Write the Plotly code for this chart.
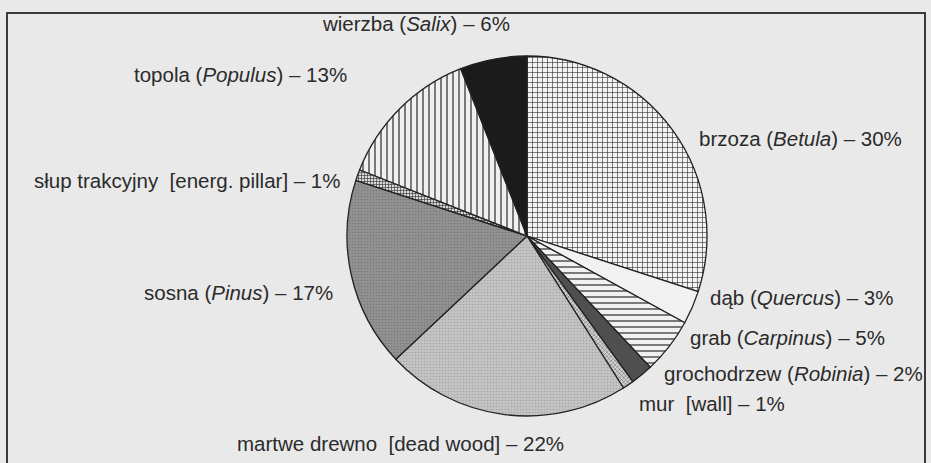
import plotly.graph_objects as go

W, H = 931, 463

categories = ["brzoza", "dąb", "grab", "grochodrzew", "mur", "martwe drewno",
              "sosna", "słup trakcyjny", "topola", "wierzba"]
values = [30, 3, 5, 2, 1, 22, 17, 1, 13, 6]
label_texts = [
    "brzoza (<i>Betula</i>) – 30%",
    "dąb (<i>Quercus</i>) – 3%",
    "grab (<i>Carpinus</i>) – 5%",
    "grochodrzew (<i>Robinia</i>) – 2%",
    "mur  [wall] – 1%",
    "martwe drewno  [dead wood] – 22%",
    "sosna (<i>Pinus</i>) – 17%",
    "słup trakcyjny  [energ. pillar] – 1%",
    "topola (<i>Populus</i>) – 13%",
    "wierzba (<i>Salix</i>) – 6%",
]

# styling per slice
colors = ["#f3f3f3", "#f1f1f1", "#f1f1f1", "#4f4f4f", "#d4d4d4", "#c4c4c4",
          "#929292", "#d8d8d8", "#f0f0f0", "#1b1b1b"]
shapes = ["+", "", "-", "", "x", ".", ".", "+", "|", ""]
fgcols = ["#2a2a2a", "#000", "#2a2a2a", "#000", "#555555", "#a8a8a8",
          "#7a7a7a", "#2a2a2a", "#2a2a2a", "#000"]
psizes = [5, 6, 6, 6, 3, 3, 3, 3, 6, 6]
psolid = [0.22, 0.2, 0.2, 0.2, 0.3, 0.25, 0.25, 0.35, 0.2, 0.2]

# label placement (pixel anchors)
lab_x = [697, 708, 688, 662, 637, 400, 335, 343, 241, 416]
lab_y = [138, 297, 337, 373, 403, 443, 292, 181, 75, 24]
lab_anchor = ["left", "left", "left", "left", "left", "center", "right", "right", "center", "center"]

cx, cy, r = 527, 236, 180

fig = go.Figure()
fig.add_trace(go.Pie(
    labels=categories,
    values=values,
    sort=False,
    direction="clockwise",
    rotation=0,
    textinfo="none",
    hoverinfo="label+percent",
    showlegend=False,
    domain=dict(x=[(cx - r) / W, (cx + r) / W], y=[1 - (cy + r) / H, 1 - (cy - r) / H]),
    marker=dict(
        colors=colors,
        line=dict(color="#222222", width=1.3),
        pattern=dict(shape=shapes, fgcolor=fgcols, bgcolor=colors, size=psizes,
                     solidity=psolid, fillmode="replace"),
    ),
))

for t, x, y, a in zip(label_texts, lab_x, lab_y, lab_anchor):
    fig.add_annotation(text=t, x=x / W, y=1 - y / H, xref="paper", yref="paper",
                       xanchor=a, yanchor="middle", showarrow=False,
                       font=dict(family="Liberation Sans, Arial, sans-serif", size=20.5, color="#2b2b2b"))

# frame
fig.add_shape(type="rect", xref="paper", yref="paper",
              x0=7 / W, x1=925 / W, y0=-0.2, y1=1 - 13 / H,
              line=dict(color="#3a3a3a", width=2), fillcolor="rgba(0,0,0,0)", layer="below")

fig.update_layout(
    width=W, height=H,
    margin=dict(l=0, r=0, t=0, b=0),
    paper_bgcolor="#e9e9e9",
    plot_bgcolor="#e9e9e9",
)

fig.write_html("out.html", config={"displayModeBar": False},
               post_script="document.body.style.margin='0';document.body.style.background='#e9e9e9';")
